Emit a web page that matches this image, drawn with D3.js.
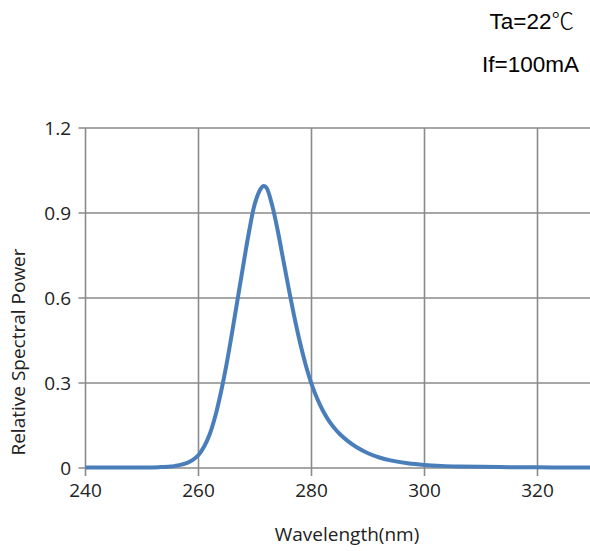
<!DOCTYPE html>
<html>
<head>
<meta charset="utf-8">
<script src="https://cdn.jsdelivr.net/npm/d3@7"></script>
<style>
  body { margin: 0; background: #fff; }
  svg { display: block; }
</style>
</head>
<body>
<div id="chart"></div>
<script>
// ---------- DATA ----------
const wavelength = [240, 245, 250, 253, 255, 256, 257, 258, 259, 260, 261, 262, 263, 264, 265, 266, 267, 268, 269, 270, 271, 271.5, 272, 273, 274, 275, 276, 277, 278, 279, 280, 281, 282, 283, 284, 285, 286.5, 288, 290, 292, 294, 297, 300, 303, 306, 310, 315, 320, 325, 330];
const power = [0.002, 0.002, 0.002, 0.003, 0.005, 0.008, 0.012, 0.018, 0.029, 0.046, 0.076, 0.12, 0.185, 0.27, 0.37, 0.485, 0.605, 0.725, 0.84, 0.935, 0.985, 0.995, 0.99, 0.93, 0.84, 0.735, 0.63, 0.53, 0.44, 0.362, 0.297, 0.245, 0.203, 0.169, 0.142, 0.12, 0.094, 0.073, 0.052, 0.037, 0.027, 0.017, 0.011, 0.0075, 0.0055, 0.004, 0.003, 0.0025, 0.002, 0.002];
const xTicks = [240, 260, 280, 300, 320];
const yTicks = [0, 0.3, 0.6, 0.9, 1.2];
const notes = ["Ta=22℃", "If=100mA"];

// ---------- LAYOUT ----------
const width = 590, height = 551;
const plotLeft = 85.5, plotRight = 594, plotTop = 128, plotBottom = 468;
const tickFont = "'Open Sans', 'Noto Sans', sans-serif";

const svg = d3.select("#chart").append("svg")
    .attr("width", width)
    .attr("height", height);

const x = d3.scaleLinear().domain([240, 330]).range([plotLeft, plotRight]);
const y = d3.scaleLinear().domain([0, 1.2]).range([plotBottom, plotTop]);

// GRID
svg.append("g")
    .selectAll("line")
    .data(yTicks)
    .join("line")
    .attr("x1", plotLeft - 7).attr("x2", plotRight)
    .attr("y1", d => y(d)).attr("y2", d => y(d))
    .attr("stroke", "#8a8a8a")
    .attr("stroke-width", 1.6);

svg.append("g")
    .selectAll("line")
    .data(xTicks)
    .join("line")
    .attr("x1", d => x(d)).attr("x2", d => x(d))
    .attr("y1", plotTop).attr("y2", plotBottom + 8)
    .attr("stroke", "#8a8a8a")
    .attr("stroke-width", 1.6);

// TICK LABELS
svg.append("g")
    .selectAll("text")
    .data(yTicks)
    .join("text")
    .attr("x", 71)
    .attr("y", d => y(d))
    .attr("dy", "0.36em")
    .attr("text-anchor", "end")
    .attr("font-family", tickFont)
    .attr("font-size", 19)
    .attr("fill", "#222")
    .text(d => d === 0 ? "0" : d3.format(".1f")(d));

svg.append("g")
    .selectAll("text")
    .data(xTicks)
    .join("text")
    .attr("x", d => x(d))
    .attr("y", 497)
    .attr("text-anchor", "middle")
    .attr("font-family", tickFont)
    .attr("font-size", 19)
    .attr("fill", "#222")
    .text(d => d);

// AXIS TITLES
svg.append("text")
    .attr("x", 347)
    .attr("y", 541)
    .attr("text-anchor", "middle")
    .attr("font-family", tickFont)
    .attr("font-size", 19)
    .attr("fill", "#222")
    .text("Wavelength(nm)");

svg.append("text")
    .attr("transform", "translate(25,352) rotate(-90)")
    .attr("text-anchor", "middle")
    .attr("font-family", tickFont)
    .attr("font-size", 19)
    .attr("fill", "#222")
    .text("Relative Spectral Power");

// CONDITIONS (the ℃ sign in a thin CJK face, like the original)
const noteText = svg.append("g")
    .selectAll("text")
    .data(notes)
    .join("text")
    .attr("x", (d, i) => i === 0 ? 574 : 579)
    .attr("y", (d, i) => 28.5 + i * 43.5)
    .attr("text-anchor", "end")
    .attr("font-family", "'Liberation Sans', Arial, sans-serif")
    .attr("font-size", 22.5)
    .attr("fill", "#000");

noteText.each(function(d) {
    const parts = d.split("℃");
    const t = d3.select(this);
    t.append("tspan").text(parts[0]);
    if (parts.length > 1) {
        t.append("tspan")
            .attr("font-family", "'Noto Sans CJK SC', sans-serif")
            .attr("font-weight", 300)
            .text("℃");
    }
});

// CURVE
const line = d3.line()
    .x((d, i) => x(wavelength[i]))
    .y(d => y(d))
    .curve(d3.curveCatmullRom.alpha(0.5));

svg.append("path")
    .datum(power)
    .attr("d", line)
    .attr("fill", "none")
    .attr("stroke", "#4a7ebb")
    .attr("stroke-width", 4)
    .attr("stroke-linejoin", "round");
</script>
</body>
</html>
